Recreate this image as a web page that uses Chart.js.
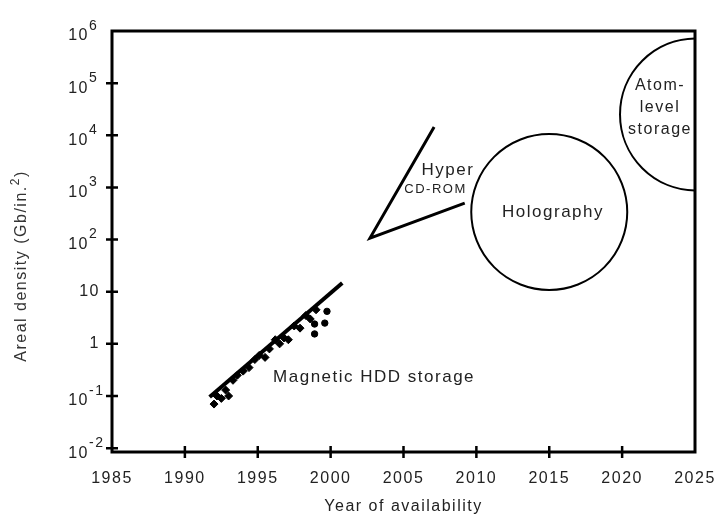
<!DOCTYPE html>
<html>
<head>
<meta charset="utf-8">
<script src="https://cdn.jsdelivr.net/npm/chart.js@4.4.1/dist/chart.umd.min.js"></script>
<style>
  html, body { margin: 0; padding: 0; background: #fff; }
</style>
</head>
<body>
<canvas id="densityChart" width="718" height="516"></canvas>
<script>
// Tick values
var xTicks = [1985, 1990, 1995, 2000, 2005, 2010, 2015, 2020, 2025];
var yTicks = [0.01, 0.1, 1, 10, 100, 1e3, 1e4, 1e5, 1e6];

// Magnetic HDD measurements (year, Gb/in.2)
var hddYears = [1992.0, 1992.2, 1992.5, 1992.8, 1993.0, 1993.3, 1993.6, 1994.0, 1994.4, 1994.8, 1995.1,
  1995.5, 1995.8, 1996.2, 1996.5, 1996.8, 1997.1, 1997.5, 1997.9, 1998.3, 1998.6, 1999.0];
var hddDensity = [0.07, 0.1, 0.09, 0.13, 0.1, 0.2, 0.25, 0.3, 0.35, 0.5, 0.6,
  0.55, 0.8, 1.2, 1.0, 1.3, 1.2, 2.2, 2.0, 3.5, 3.0, 4.5];

// points lying off the trend
var outlierYears = [1999.75, 1999.6, 1998.9, 1998.9];
var outlierDensity = [4.2, 2.5, 2.4, 1.55];

// HDD trend line
var trendYears = [1991.7, 2000.8];
var trendDensity = [0.096, 14.7];

// Hyper CD-ROM wedge
var hyperYears = [2007.1, 2002.7, 2009.2];
var hyperDensity = [14400, 107, 500];

// Holography and atom-level storage regions (centres)
var holoYear = 2015.0;
var holoDensity = 338;
var atomYear = 2025.07;
var atomDensity = 25100;

function toPoints(xs, ys) {
  return xs.map(function (x, i) {
    return { x: x, y: ys[i] };
  });
}

// text placed on the chart, anchored to data coordinates
var notes = [
  { text: ["Magnetic HDD storage"], x: 2002.98, y: 0.232, size: 17 },
  { text: ["Hyper"], x: 2008.05, y: 2160, size: 17 },
  { text: ["CD-ROM"], x: 2007.2, y: 900, size: 13 },
  { text: ["Holography"], x: 2015.26, y: 340, size: 17 },
  { text: ["Atom-", "level", "storage"], x: 2022.6, y: 33300, size: 16 }
];

var FONT = "'Liberation Sans', Arial, sans-serif";

var decorPlugin = {
  id: "decor",
  beforeDraw: function (chart) {
    chart.ctx.letterSpacing = "1.5px";
  },
  afterDatasetsDraw: function (chart) {
    var ctx = chart.ctx;
    var area = chart.chartArea;
    var xs = chart.scales.x;
    var ys = chart.scales.y;
    ctx.save();
    // frame
    ctx.strokeStyle = "#000";
    ctx.lineWidth = 3;
    ctx.strokeRect(area.left, area.top, area.right - area.left, area.bottom - area.top);
    // tick marks crossing the axes
    ctx.lineWidth = 2.5;
    ctx.beginPath();
    xTicks.slice(1, -1).forEach(function (v) {
      var px = xs.getPixelForValue(v);
      ctx.moveTo(px, area.bottom - 6);
      ctx.lineTo(px, area.bottom + 6);
    });
    yTicks.slice(0, -1).forEach(function (v) {
      var py = ys.getPixelForValue(v);
      ctx.moveTo(area.left - 6, py);
      ctx.lineTo(area.left + 6, py);
    });
    ctx.stroke();

    // y tick labels as powers of ten
    ctx.fillStyle = "#222";
    ctx.textBaseline = "middle";
    yTicks.forEach(function (v) {
      var py = ys.getPixelForValue(v);
      var e = Math.round(Math.log10(v));
      ctx.font = "16px " + FONT;
      if (e === 0 || e === 1) {
        ctx.textAlign = "right";
        ctx.fillText(String(v), 100, py);
        return;
      }
      ctx.textAlign = "right";
      ctx.fillText("10", 89, py + 5);
      ctx.textAlign = "left";
      ctx.font = "14px " + FONT;
      ctx.fillText(String(e), 89, py - 5);
    });

    // notes
    ctx.textAlign = "center";
    notes.forEach(function (n) {
      ctx.font = n.size + "px " + FONT;
      var cx = xs.getPixelForValue(n.x);
      var cy = ys.getPixelForValue(n.y);
      var lh = 22;
      var start = cy - (n.text.length - 1) * lh / 2;
      n.text.forEach(function (t, i) {
        ctx.fillText(t, cx, start + i * lh);
      });
    });

    // y axis title, with a raised exponent
    ctx.translate(22, 266);
    ctx.rotate(-Math.PI / 2);
    ctx.fillStyle = "#333";
    ctx.textAlign = "left";
    var head = "Areal density (Gb/in.";
    ctx.font = "16px " + FONT;
    var wHead = ctx.measureText(head).width;
    ctx.font = "12px " + FONT;
    var wExp = ctx.measureText("2").width;
    ctx.font = "16px " + FONT;
    var wTail = ctx.measureText(")").width;
    var x0 = -(wHead + wExp + wTail) / 2;
    ctx.fillText(head, x0, 0);
    ctx.font = "12px " + FONT;
    ctx.fillText("2", x0 + wHead, -6);
    ctx.font = "16px " + FONT;
    ctx.fillText(")", x0 + wHead + wExp, 0);
    ctx.restore();
  }
};

Chart.defaults.font.family = FONT;
Chart.defaults.color = "#222";

var ctx = document.getElementById("densityChart").getContext("2d");
new Chart(ctx, {
  type: "scatter",
  data: {
    datasets: [
      {
        label: "Trend",
        data: toPoints(trendYears, trendDensity),
        showLine: true,
        borderColor: "#000",
        borderWidth: 4,
        pointRadius: 0
      },
      {
        label: "Magnetic HDD",
        data: toPoints(hddYears, hddDensity),
        backgroundColor: "#000",
        borderColor: "#000",
        pointStyle: "rectRot",
        pointRadius: 4
      },
      {
        label: "Outliers",
        data: toPoints(outlierYears, outlierDensity),
        backgroundColor: "#000",
        borderColor: "#000",
        pointRadius: 3.2
      },
      {
        label: "Hyper CD-ROM",
        data: toPoints(hyperYears, hyperDensity),
        showLine: true,
        borderColor: "#000",
        borderWidth: 3,
        pointRadius: 0
      },
      {
        type: "bubble",
        label: "Holography",
        data: [{ x: holoYear, y: holoDensity }],
        radius: 78,
        backgroundColor: "rgba(0,0,0,0)",
        borderColor: "#000",
        borderWidth: 2
      },
      {
        type: "bubble",
        label: "Atom-level storage",
        data: [{ x: atomYear, y: atomDensity }],
        radius: 76,
        backgroundColor: "rgba(0,0,0,0)",
        borderColor: "#000",
        borderWidth: 2
      }
    ]
  },
  options: {
    responsive: false,
    animation: false,
    events: [],
    layout: { autoPadding: false, padding: { top: 31, right: 23, left: 0, bottom: 0 } },
    plugins: {
      legend: { display: false },
      tooltip: { enabled: false }
    },
    scales: {
      x: {
        type: "linear",
        min: 1985,
        max: 2025,
        grid: { display: false, drawTicks: false },
        border: { display: false },
        afterBuildTicks: function (scale) {
          scale.ticks = xTicks.map(function (v) { return { value: v }; });
        },
        afterFit: function (scale) {
          scale.height = 64;
          scale.paddingLeft = 0;
          scale.paddingRight = 0;
        },
        ticks: {
          padding: 17,
          maxRotation: 0,
          font: { size: 16 },
          color: "#222",
          callback: function (v) { return String(v); }
        },
        title: {
          display: true,
          text: "Year of availability",
          font: { size: 16 },
          color: "#222",
          padding: { top: 0, bottom: 0 }
        }
      },
      y: {
        type: "logarithmic",
        min: 0.00843,
        max: 1e6,
        grid: { display: false, drawTicks: false },
        border: { display: false },
        afterBuildTicks: function (scale) {
          scale.ticks = yTicks.map(function (v) { return { value: v }; });
        },
        afterFit: function (scale) {
          scale.width = 112;
          scale.paddingTop = 0;
          scale.paddingBottom = 0;
        },
        ticks: { display: false }
      }
    }
  },
  plugins: [decorPlugin]
});
</script>
</body>
</html>
